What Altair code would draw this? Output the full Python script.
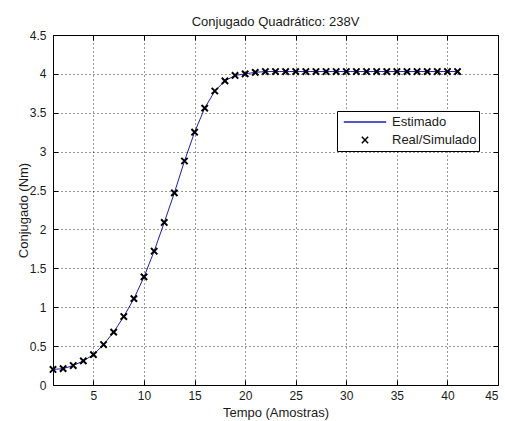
import altair as alt
import pandas as pd

# --- data ---
t_vals = list(range(1, 42))
torque = [0.20, 0.21, 0.25, 0.31, 0.39, 0.52, 0.68, 0.88, 1.11, 1.39,
          1.72, 2.09, 2.47, 2.88, 3.25, 3.56, 3.78, 3.91, 3.98, 4.00,
          4.02, 4.03, 4.03, 4.03, 4.03, 4.03, 4.03, 4.03, 4.03, 4.03,
          4.03, 4.03, 4.03, 4.03, 4.03, 4.03, 4.03, 4.03, 4.03, 4.03,
          4.03]
series_names = ["Estimado", "Real/Simulado"]
x_ticks = [5, 10, 15, 20, 25, 30, 35, 40, 45]
y_ticks = [0, 0.5, 1, 1.5, 2, 2.5, 3, 3.5, 4, 4.5]

df = pd.DataFrame({"t": t_vals, "c": torque})

FONT = "Liberation Sans"
TXT = "#1a1a1a"

color_scale = alt.Scale(domain=series_names, range=["#1c1cb0", "#000000"])
shape_scale = alt.Scale(domain=series_names, range=["stroke", "M-1,-1L1,1M-1,1L1,-1"])
size_scale = alt.Scale(type="ordinal", domain=series_names, range=[1800, 40])

legend = alt.Legend(
    title=None, orient="none", legendX=284, legendY=76,
    strokeColor="black", fillColor="white", padding=2, symbolOffset=4,
    clipHeight=18, rowPadding=0, labelFont=FONT, labelFontSize=13,
    labelColor=TXT, labelOffset=5, symbolStrokeWidth=1.5, cornerRadius=0,
)

line = alt.Chart(df).transform_calculate(series="'Estimado'").mark_line(
    strokeWidth=1
).encode(
    x=alt.X("t:Q", scale=alt.Scale(domain=[1, 45], nice=False, zero=False),
            axis=alt.Axis(values=x_ticks, title="Tempo (Amostras)", grid=True,
                          gridDash=[1, 3], gridColor="black", gridOpacity=0.8,
                          domain=False, tickSize=5, offset=-5, tickColor="black",
                          labelPadding=5, labelFont=FONT, labelFontSize=12,
                          labelColor=TXT, titleFont=FONT, titleFontSize=13,
                          titleFontWeight="normal", titleColor=TXT, titlePadding=5)),
    y=alt.Y("c:Q", scale=alt.Scale(domain=[0, 4.5], nice=False),
            axis=alt.Axis(values=y_ticks, format="~g", title="Conjugado (Nm)", grid=True,
                          gridDash=[1, 3], gridColor="black", gridOpacity=0.8,
                          domain=False, tickSize=5, offset=-5, tickColor="black",
                          labelPadding=7, labelFont=FONT, labelFontSize=12,
                          labelColor=TXT, titleFont=FONT, titleFontSize=13,
                          titleFontWeight="normal", titleColor=TXT, titlePadding=-1)),
    color=alt.Color("series:N", scale=color_scale, legend=legend),
)

points = alt.Chart(df).transform_calculate(series="'Real/Simulado'").mark_point(
    filled=False, strokeWidth=2, opacity=1
).encode(
    x=alt.X("t:Q", axis=alt.Axis(orient="top", labels=False, title=None, grid=False,
                                 domain=False, tickSize=5, offset=-5, tickColor="black",
                                 values=x_ticks)),
    y=alt.Y("c:Q", axis=alt.Axis(orient="right", labels=False, title=None, grid=False,
                                 domain=False, tickSize=5, offset=-5, tickColor="black",
                                 values=y_ticks)),
    color=alt.Color("series:N", scale=color_scale, legend=legend),
    shape=alt.Shape("series:N", scale=shape_scale, legend=legend),
    size=alt.Size("series:N", scale=size_scale, legend=legend),
)

chart = alt.layer(line, points).resolve_axis(x="independent", y="independent").properties(
    width=445, height=350,
    title=alt.TitleParams("Conjugado Quadrático: 238V", font=FONT, fontSize=13,
                          fontWeight="normal", color=TXT, baseline="alphabetic",
                          offset=11, dy=21),
    autosize=alt.AutoSizeParams(type="none"),
    padding={"left": 53, "top": 35, "right": 7, "bottom": 36},
    background="white",
).configure_view(stroke="black", strokeWidth=1)

chart.save("out.html", embed_options={"renderer": "svg", "actions": False})
